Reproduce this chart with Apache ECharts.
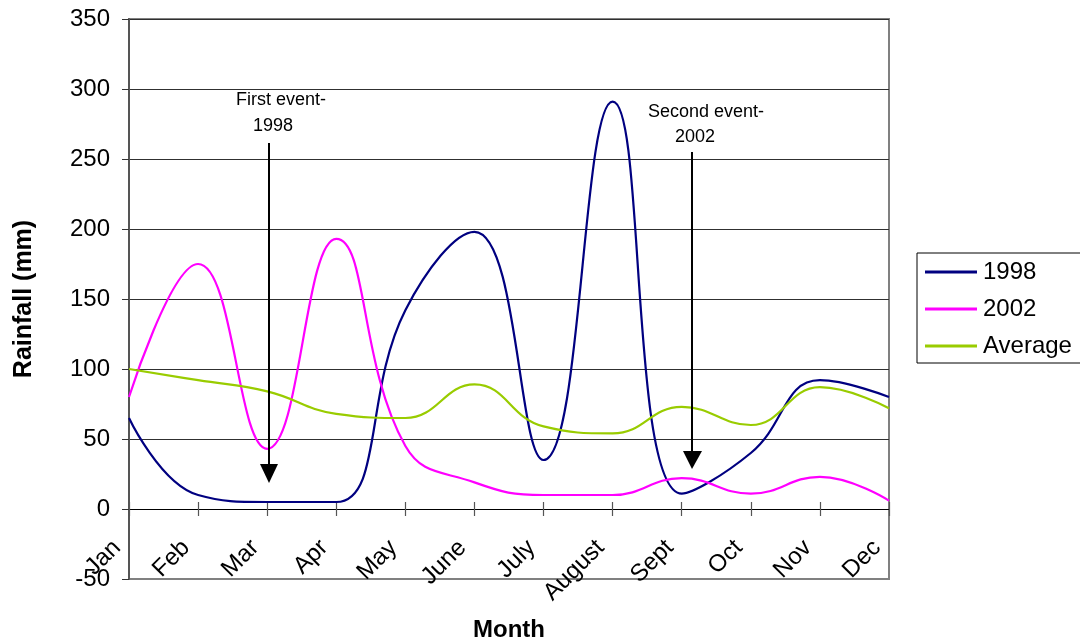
<!DOCTYPE html>
<html>
<head>
<meta charset="utf-8">
<script src="https://cdn.jsdelivr.net/npm/echarts@6/dist/echarts.min.js"></script>
<style>
html,body{margin:0;padding:0;background:#fff;}
#chart{width:1080px;height:641px;}
</style>
</head>
<body>
<div id="chart"></div>
<script>
const months = ['Jan','Feb','Mar','Apr','May','June','July','August','Sept','Oct','Nov','Dec'];
const rain1998 = [65, 10, 5, 5, 142, 198, 35, 291, 11, 40, 92, 80];
const rain2002 = [80, 175, 43, 193, 45, 19, 10, 10, 22, 11, 23, 6];
const rainAverage = [100, 92, 84, 68, 65, 89, 59, 54, 73, 60, 87, 72];
const yTicks = [-50, 0, 50, 100, 150, 200, 250, 300, 350];

const FONT = '"Liberation Sans", Arial, sans-serif';
const chart = echarts.init(document.getElementById('chart'));

const gridColors = yTicks.map((v, i) => i === 0 ? '#808080' : '#303030');
const gridBox = { left: 129, right: 191, top: 19, bottom: 62 };

const option = {
  animation: false,
  backgroundColor: '#ffffff',
  textStyle: { fontFamily: FONT },
  grid: [
    Object.assign({ show: true, borderColor: '#808080', borderWidth: 2, backgroundColor: '#fff', outerBoundsMode: 'none', containLabel: false }, gridBox),
    Object.assign({ show: false, outerBoundsMode: 'none', containLabel: false }, gridBox)
  ],
  legend: {
    orient: 'vertical',
    left: 917, top: 253,
    padding: [7, 12, 5, 8],
    borderColor: '#000', borderWidth: 1,
    itemWidth: 52, itemHeight: 3, itemGap: 13,
    icon: 'rect',
    textStyle: { fontSize: 24, color: '#000', fontFamily: FONT, padding: [0, 0, 0, 1] },
    data: ['1998', '2002', 'Average']
  },
  xAxis: [
    {
      type: 'category', data: months, boundaryGap: false, position: 'bottom', gridIndex: 0,
      axisLine: { onZero: true, lineStyle: { color: '#000', width: 1.2 } },
      axisTick: { show: true, length: 7, inside: false, lineStyle: { color: '#555', width: 1.2 } },
      axisLabel: { show: false }, splitLine: { show: false }
    },
    {
      type: 'category', data: months, boundaryGap: false, position: 'bottom', gridIndex: 1,
      axisLine: { onZero: true, show: false },
      axisTick: { show: true, length: 7, inside: true, lineStyle: { color: '#555', width: 1.2 } },
      axisLabel: { show: false }, splitLine: { show: false }
    },
    {
      type: 'category', data: months, boundaryGap: false, position: 'top', gridIndex: 0,
      axisLine: { onZero: false, show: false },
      axisTick: { show: false },
      axisLabel: { show: false },
      splitLine: { show: false }
    },
    {
      type: 'category', data: months, boundaryGap: false, position: 'bottom', gridIndex: 1,
      offset: -47,
      axisLine: { onZero: false, show: false },
      axisTick: { show: false },
      axisLabel: { show: true, interval: 0, rotate: 45, margin: 0, fontSize: 24, color: '#000', fontFamily: FONT,
        padding: [0, 17, 25, 0] },
      splitLine: { show: false },
      name: 'Month', nameLocation: 'middle', nameGap: 86,
      nameTextStyle: { fontSize: 24, fontWeight: 'bold', color: '#000', fontFamily: FONT }
    }
  ],
  yAxis: [
    {
      type: 'value', min: -50, max: 350, interval: 50, gridIndex: 0,
      axisLine: { show: true, lineStyle: { color: '#555', width: 2 } },
      axisTick: { show: true, length: 7, lineStyle: { color: '#333', width: 1 } },
      axisLabel: { fontSize: 24, color: '#000', margin: 19, fontFamily: FONT },
      splitLine: { show: true, lineStyle: { color: gridColors, width: 1.2 } },
      name: 'Rainfall (mm)', nameLocation: 'middle', nameGap: 92, nameRotate: 90,
      nameTextStyle: { fontSize: 25, fontWeight: 'bold', color: '#000', fontFamily: FONT }
    },
    {
      type: 'value', min: -50, max: 350, interval: 50, gridIndex: 1, show: false
    }
  ],
  series: [
    { name: '1998', type: 'line', data: rain1998, smooth: 0.45, symbol: 'none', xAxisIndex: 0, yAxisIndex: 0,
      lineStyle: { color: '#000080', width: 2.2 }, itemStyle: { color: '#000080' }, z: 3 },
    { name: '2002', type: 'line', data: rain2002, smooth: 0.45, symbol: 'none', xAxisIndex: 0, yAxisIndex: 0,
      lineStyle: { color: '#FF00FF', width: 2.2 }, itemStyle: { color: '#FF00FF' }, z: 3 },
    { name: 'Average', type: 'line', data: rainAverage, smooth: 0.45, symbol: 'none', xAxisIndex: 0, yAxisIndex: 0,
      lineStyle: { color: '#99CC00', width: 2.2 }, itemStyle: { color: '#99CC00' }, z: 3 }
  ],
  graphic: [
    { type: 'text', x: 281, y: 100, style: { text: 'First event-', font: '18px ' + FONT, fill: '#000', textAlign: 'center', textVerticalAlign: 'middle' }, z: 10 },
    { type: 'text', x: 273, y: 126, style: { text: '1998', font: '18px ' + FONT, fill: '#000', textAlign: 'center', textVerticalAlign: 'middle' }, z: 10 },
    { type: 'line', shape: { x1: 269, y1: 143, x2: 269, y2: 466 }, style: { stroke: '#000', lineWidth: 2 }, z: 10 },
    { type: 'polygon', shape: { points: [[260, 464], [278, 464], [269, 483]] }, style: { fill: '#000' }, z: 10 },
    { type: 'text', x: 706, y: 112, style: { text: 'Second event-', font: '18px ' + FONT, fill: '#000', textAlign: 'center', textVerticalAlign: 'middle' }, z: 10 },
    { type: 'text', x: 695, y: 137, style: { text: '2002', font: '18px ' + FONT, fill: '#000', textAlign: 'center', textVerticalAlign: 'middle' }, z: 10 },
    { type: 'line', shape: { x1: 692, y1: 152, x2: 692, y2: 453 }, style: { stroke: '#000', lineWidth: 2 }, z: 10 },
    { type: 'polygon', shape: { points: [[683, 451], [702, 451], [692, 469]] }, style: { fill: '#000' }, z: 10 }
  ]
};
chart.setOption(option);
</script>
</body>
</html>
